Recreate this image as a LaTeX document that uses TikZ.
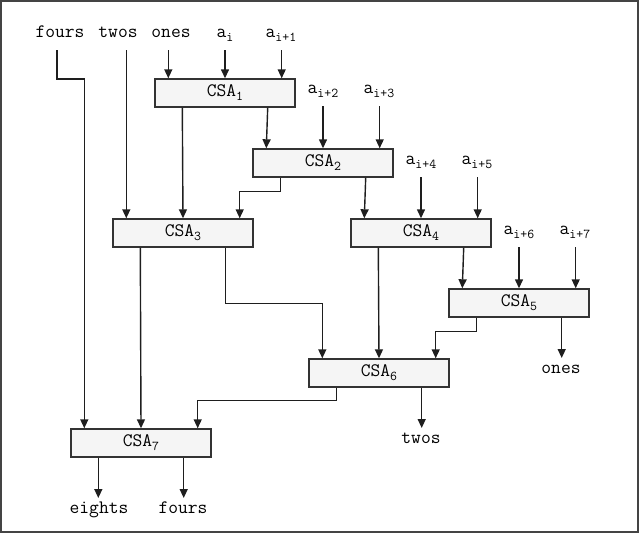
\documentclass[tikz,border=0pt]{standalone}
\usepackage{fontspec}
\usepackage{tikz}
\usetikzlibrary{arrows.meta, positioning, calc}
\definecolor{boxfill}{HTML}{F5F5F5}
\definecolor{boxline}{HTML}{333333}
\definecolor{wire}{HTML}{1E1E1E}
\definecolor{framegray}{HTML}{444444}
\newcommand{\lo}[1]{\raisebox{-4pt}{\fontsize{13.5}{15}\selectfont #1}}
\tikzstyle{arrow} = [line width=1.4pt, draw=wire, -{Triangle[length=9pt, width=8pt]}]

\begin{document}
\begin{tikzpicture}[x=1pt, y=-1pt,
    csabox/.style={rectangle, draw=boxline, fill=boxfill, line width=1.4pt, minimum width=140pt, minimum height=28pt, inner sep=0pt, font=\ttfamily\fontsize{19}{22}\selectfont},
    inlabel/.style={anchor=base, inner sep=0pt, outer sep=0pt, text depth=13pt, font=\ttfamily\fontsize{19}{22}\selectfont},
    outlabel/.style={anchor=base, inner sep=0pt, outer sep=0pt, text height=15pt, font=\ttfamily\fontsize{19}{22}\selectfont},
]
\useasboundingbox (0,0) rectangle (639,533);
\draw[line width=2.4pt, draw=framegray] (1.2,1.2) rectangle (637.8,531.8);

% Carry-save adders
\node[csabox] (csa1) at (225, 93) {CSA\lo{1}};
\node[csabox] (csa2) at (323, 163) {CSA\lo{2}};
\node[csabox] (csa3) at (183, 233) {CSA\lo{3}};
\node[csabox] (csa4) at (421, 233) {CSA\lo{4}};
\node[csabox] (csa5) at (519, 303) {CSA\lo{5}};
\node[csabox] (csa6) at (379, 373) {CSA\lo{6}};
\node[csabox] (csa7) at (141, 443) {CSA\lo{7}};

% Input and output points of each adder
\foreach \n in {1,...,7}{
  \coordinate (csa\n-l) at ([xshift=14pt]csa\n.north west);
  \coordinate (csa\n-m) at (csa\n.north);
  \coordinate (csa\n-r) at ([xshift=-14pt]csa\n.north east);
  \coordinate (csa\n-ol) at ([xshift=28pt]csa\n.south west);
  \coordinate (csa\n-or) at ([xshift=-28pt]csa\n.south east);
}

% Inputs
\node[inlabel] (fours) at (60, 37) {fours};
\node[inlabel] (twos) at (118, 37) {twos};
\node[inlabel] (ones) at (171, 37) {ones};
\node[inlabel] (a0) at (225, 37) {a\lo{i}};
\node[inlabel] (a1) at (281, 37) {a\lo{i+1}};
\node[inlabel] (a2) at (323, 93) {a\lo{i+2}};
\node[inlabel] (a3) at (379, 93) {a\lo{i+3}};
\node[inlabel] (a4) at (421, 164) {a\lo{i+4}};
\node[inlabel] (a5) at (477, 164) {a\lo{i+5}};
\node[inlabel] (a6) at (519, 234) {a\lo{i+6}};
\node[inlabel] (a7) at (575, 234) {a\lo{i+7}};

% Outputs
\node[outlabel] (onesout) at (561, 373) {ones};
\node[outlabel] (twosout) at (421, 443) {twos};
\node[outlabel] (eights) at (99, 513) {eights};
\node[outlabel] (foursout) at (183, 513) {fours};

% Arrows from inputs
\draw[arrow] ([xshift=-3pt]fours.south) -- ++(0,29) -| (csa7-l);
\draw[arrow] (twos.south -| csa3-l) -- (csa3-l);
\draw[arrow] (ones.south -| csa1-l) -- (csa1-l);
\draw[arrow] (a0.south -| csa1-m) -- (csa1-m);
\draw[arrow] (a1.south -| csa1-r) -- (csa1-r);
\draw[arrow] (a2.south -| csa2-m) -- (csa2-m);
\draw[arrow] (a3.south -| csa2-r) -- (csa2-r);
\draw[arrow] (a4.south -| csa4-m) -- (csa4-m);
\draw[arrow] (a5.south -| csa4-r) -- (csa4-r);
\draw[arrow] (a6.south -| csa5-m) -- (csa5-m);
\draw[arrow] (a7.south -| csa5-r) -- (csa5-r);

% Arrows between adders
\draw[arrow] (csa1-ol) -- (csa3-m);
\draw[arrow] (csa1-or) -- (csa2-l);
\draw[arrow] (csa2-ol) -- ++(0,14) -| (csa3-r);
\draw[arrow] (csa2-or) -- (csa4-l);
\draw[arrow] (csa3-ol) -- (csa7-m);
\draw[arrow] (csa3-or) -- ++(0,56) -| (csa6-l);
\draw[arrow] (csa4-ol) -- (csa6-m);
\draw[arrow] (csa4-or) -- (csa5-l);
\draw[arrow] (csa5-ol) -- ++(0,14) -| (csa6-r);
\draw[arrow] (csa6-ol) -- ++(0,13) -| (csa7-r);

% Arrows to outputs
\draw[arrow] (csa5-or) -- (onesout.north -| csa5-or);
\draw[arrow] (csa6-or) -- (twosout.north -| csa6-or);
\draw[arrow] (csa7-ol) -- (eights.north -| csa7-ol);
\draw[arrow] (csa7-or) -- (foursout.north -| csa7-or);

\end{tikzpicture}
\end{document}
